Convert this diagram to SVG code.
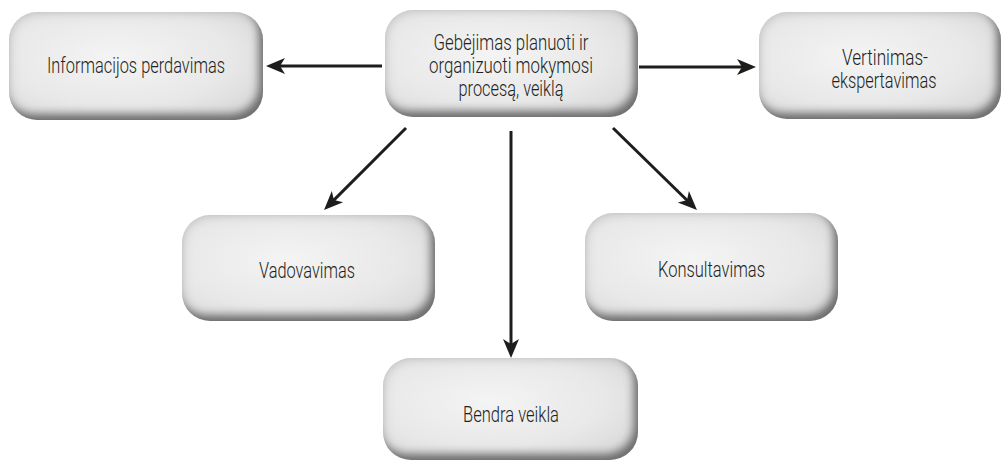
<svg xmlns="http://www.w3.org/2000/svg" width="1003" height="462" viewBox="0 0 1003 462">
  <defs>
    <radialGradient id="faceFill" cx="0.42" cy="0.42" r="0.75">
      <stop offset="0" stop-color="#f4f4f4"/>
      <stop offset="0.6" stop-color="#e8e8e8"/>
      <stop offset="1" stop-color="#d6d6d6"/>
    </radialGradient>
    <!-- soft pillow look: dark inner shade on the lower right, light grey rim all round -->
    <filter id="pillow" x="-5%" y="-5%" width="110%" height="110%">
      <feOffset in="SourceAlpha" dx="-5" dy="-7"/>
      <feGaussianBlur stdDeviation="4.5" result="shift"/>
      <feComposite in="SourceAlpha" in2="shift" operator="out" result="edge"/>
      <feFlood flood-color="#6e6e6e"/>
      <feComposite in2="edge" operator="in" result="shade"/>
      <feGaussianBlur in="SourceAlpha" stdDeviation="6" result="rimBlur"/>
      <feComposite in="SourceAlpha" in2="rimBlur" operator="out" result="rim"/>
      <feFlood flood-color="#aaaaaa" flood-opacity="0.75"/>
      <feComposite in2="rim" operator="in" result="rimShade"/>
      <feMerge>
        <feMergeNode in="SourceGraphic"/>
        <feMergeNode in="rimShade"/>
        <feMergeNode in="shade"/>
      </feMerge>
    </filter>
    <marker id="head" viewBox="-10 -9 22 18" refX="0" refY="0" markerWidth="22" markerHeight="18" markerUnits="userSpaceOnUse" orient="auto">
      <path d="M10,0 L-9,-8 L-4,0 L-9,8 Z" fill="#1d1d1b"/>
    </marker>
  </defs>
  <style>
    .box { fill: url(#faceFill); filter: url(#pillow); }
    .label { font-family: Roboto, "Liberation Sans", sans-serif; font-weight: 300; font-size: 22px; fill: #231f20; text-anchor: middle; }
    .link { stroke: #1d1d1b; stroke-width: 3; fill: none; marker-end: url(#head); }
  </style>

  <rect width="1003" height="462" fill="#ffffff"/>

  <g id="connectors">
    <line class="link" x1="382" y1="66" x2="276" y2="66"/>
    <line class="link" x1="639" y1="67" x2="746" y2="67"/>
    <line class="link" x1="406" y1="128" x2="331.1" y2="202.9"/>
    <line class="link" x1="511" y1="131" x2="511" y2="348"/>
    <line class="link" x1="613" y1="128" x2="689.8" y2="203"/>
  </g>

  <g id="informacijos">
    <rect class="box" x="9" y="12" width="254" height="108" rx="28"/>
    <text class="label" x="136" y="73" textLength="178" lengthAdjust="spacingAndGlyphs">Informacijos perdavimas</text>
  </g>

  <g id="gebejimas">
    <rect class="box" x="385" y="10" width="253" height="107" rx="28"/>
    <text class="label" x="511" y="50" textLength="155" lengthAdjust="spacingAndGlyphs">Gebėjimas planuoti ir</text>
    <text class="label" x="511" y="73" textLength="164" lengthAdjust="spacingAndGlyphs">organizuoti mokymosi</text>
    <text class="label" x="511" y="96" textLength="105" lengthAdjust="spacingAndGlyphs">procesą, veiklą</text>
  </g>

  <g id="vertinimas">
    <rect class="box" x="759" y="12" width="242" height="107" rx="28"/>
    <text class="label" x="885" y="65" textLength="86" lengthAdjust="spacingAndGlyphs">Vertinimas-</text>
    <text class="label" x="884" y="88" textLength="105" lengthAdjust="spacingAndGlyphs">ekspertavimas</text>
  </g>

  <g id="vadovavimas">
    <rect class="box" x="182" y="215" width="253" height="106" rx="28"/>
    <text class="label" x="307" y="278" textLength="96" lengthAdjust="spacingAndGlyphs">Vadovavimas</text>
  </g>

  <g id="konsultavimas">
    <rect class="box" x="585" y="213" width="253" height="108" rx="28"/>
    <text class="label" x="711.5" y="277" textLength="107" lengthAdjust="spacingAndGlyphs">Konsultavimas</text>
  </g>

  <g id="bendra">
    <rect class="box" x="383" y="358" width="255" height="102" rx="28"/>
    <text class="label" x="511" y="422" textLength="96" lengthAdjust="spacingAndGlyphs">Bendra veikla</text>
  </g>
</svg>
